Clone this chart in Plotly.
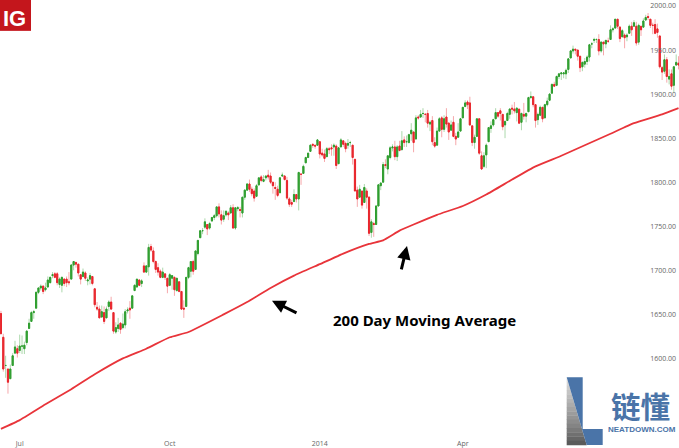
import pandas as pd
import plotly.graph_objects as go

W = 679
H = 448

holidays = ['2013-07-04', '2013-09-02', '2013-11-28', '2013-12-25', '2014-01-01',
            '2014-01-20', '2014-02-17', '2014-04-18', '2014-05-26', '2014-07-04']

# daily candles, Jun 19 2013 to Aug 12 2014, one line per month
opens = [
    1651, 1624, 1592, 1588, 1577, 1592, 1606, 1611,
    1609, 1614, 1611, 1618, 1634, 1642, 1652, 1657, 1675, 1680, 1682, 1678, 1681, 1686, 1694, 1696, 1696, 1684, 1683, 1690, 1690, 1687,
    1690, 1706, 1709, 1707, 1695, 1693, 1697, 1688, 1690, 1693, 1679, 1658, 1656, 1647, 1652, 1646, 1659, 1664, 1652, 1630, 1634, 1640,
    1635, 1638, 1654, 1657, 1657, 1677, 1681, 1689, 1685, 1705, 1698, 1704, 1727, 1722, 1710, 1703, 1699, 1692, 1696, 1691,
    1683, 1691, 1692, 1677, 1687, 1676, 1657, 1659, 1692, 1699, 1710, 1701, 1719, 1737, 1745, 1749, 1752, 1748, 1756, 1760, 1762, 1772, 1763,
    1758, 1763, 1765, 1765, 1771, 1748, 1770, 1769, 1765, 1783, 1791, 1798, 1792, 1790, 1784, 1797, 1806, 1801, 1805, 1808,
    1807, 1800, 1794, 1792, 1788, 1807, 1807, 1802, 1781, 1777, 1778, 1786, 1781, 1809, 1810, 1822, 1828, 1835, 1843, 1842, 1842,
    1846, 1833, 1832, 1829, 1838, 1839, 1840, 1841, 1821, 1840, 1847, 1844, 1842, 1845, 1842, 1826, 1791, 1783, 1790, 1777, 1790,
    1783, 1743, 1753, 1752, 1773, 1796, 1800, 1820, 1815, 1828, 1839, 1840, 1829, 1841, 1837, 1848, 1846, 1845, 1855,
    1857, 1849, 1874, 1874, 1878, 1877, 1878, 1866, 1870, 1845, 1842, 1858, 1873, 1860, 1874, 1867, 1859, 1868, 1852, 1851, 1858,
    1873, 1886, 1891, 1890, 1864, 1845, 1852, 1872, 1830, 1818, 1831, 1846, 1861, 1865, 1872, 1879, 1881, 1877, 1865, 1870, 1877,
    1884, 1883, 1879, 1883, 1868, 1877, 1875, 1880, 1896, 1897, 1888, 1871, 1876, 1885, 1873, 1888, 1893, 1901, 1911, 1910, 1920,
    1923, 1923, 1923, 1928, 1941, 1949, 1951, 1950, 1943, 1931, 1934, 1937, 1942, 1957, 1961, 1962, 1962, 1949, 1959, 1957, 1960,
    1962, 1973, 1975, 1985, 1976, 1965, 1967, 1965, 1969, 1977, 1977, 1977, 1959, 1977, 1976, 1984, 1988, 1985, 1978, 1979, 1974, 1966,
    1930, 1926, 1939, 1917, 1923, 1910, 1933, 1935,
]
highs = [
    1654, 1628, 1603, 1588, 1593, 1606, 1620, 1615,
    1627, 1626, 1619, 1632, 1645, 1654, 1655, 1676, 1680, 1684, 1683, 1686, 1693, 1693, 1698, 1698, 1698, 1692, 1693, 1691, 1693, 1698,
    1707, 1710, 1709, 1707, 1695, 1702, 1699, 1692, 1697, 1693, 1680, 1664, 1660, 1660, 1659, 1659, 1666, 1670, 1652, 1641, 1646, 1641,
    1651, 1656, 1658, 1665, 1672, 1684, 1690, 1690, 1690, 1709, 1706, 1730, 1730, 1726, 1711, 1708, 1701, 1703, 1696, 1691,
    1697, 1694, 1693, 1691, 1687, 1676, 1666, 1692, 1704, 1710, 1712, 1722, 1734, 1745, 1748, 1759, 1752, 1755, 1760, 1764, 1772, 1776, 1768,
    1768, 1768, 1767, 1774, 1775, 1771, 1773, 1772, 1783, 1792, 1799, 1803, 1795, 1793, 1798, 1805, 1808, 1808, 1808, 1814,
    1811, 1800, 1800, 1796, 1806, 1811, 1808, 1806, 1783, 1780, 1792, 1786, 1812, 1810, 1820, 1829, 1833, 1843, 1844, 1842, 1849,
    1846, 1838, 1837, 1840, 1840, 1843, 1844, 1843, 1840, 1850, 1847, 1846, 1849, 1847, 1842, 1826, 1795, 1797, 1790, 1798, 1793,
    1784, 1758, 1755, 1774, 1798, 1800, 1823, 1826, 1830, 1841, 1843, 1847, 1842, 1847, 1858, 1852, 1853, 1855, 1867,
    1857, 1876, 1876, 1882, 1884, 1878, 1882, 1870, 1875, 1851, 1862, 1874, 1875, 1876, 1884, 1868, 1870, 1875, 1856, 1867, 1873,
    1885, 1893, 1893, 1897, 1864, 1854, 1872, 1872, 1835, 1834, 1844, 1862, 1869, 1872, 1884, 1879, 1884, 1877, 1870, 1880, 1884,
    1888, 1891, 1885, 1883, 1879, 1890, 1879, 1897, 1903, 1897, 1888, 1879, 1887, 1885, 1889, 1896, 1901, 1912, 1914, 1921, 1924,
    1925, 1925, 1929, 1941, 1950, 1955, 1951, 1950, 1943, 1937, 1941, 1944, 1957, 1959, 1964, 1963, 1968, 1960, 1959, 1961, 1964,
    1978, 1976, 1985, 1985, 1977, 1974, 1969, 1969, 1979, 1982, 1984, 1982, 1980, 1977, 1986, 1990, 1992, 1985, 1981, 1985, 1980, 1966,
    1932, 1945, 1942, 1928, 1928, 1932, 1945, 1943,
]
lows = [
    1628, 1585, 1578, 1560, 1577, 1592, 1606, 1601,
    1606, 1605, 1605, 1615, 1634, 1642, 1645, 1657, 1673, 1677, 1673, 1676, 1681, 1685, 1691, 1691, 1683, 1680, 1675, 1682, 1681, 1683,
    1690, 1700, 1703, 1693, 1684, 1692, 1688, 1683, 1684, 1683, 1658, 1654, 1646, 1646, 1639, 1646, 1654, 1655, 1628, 1628, 1630, 1628,
    1633, 1634, 1651, 1645, 1657, 1677, 1681, 1682, 1681, 1697, 1697, 1694, 1721, 1708, 1697, 1694, 1691, 1691, 1689, 1674,
    1682, 1678, 1671, 1676, 1675, 1655, 1646, 1659, 1690, 1692, 1695, 1701, 1717, 1737, 1741, 1747, 1740, 1746, 1755, 1757, 1760, 1760, 1752,
    1755, 1761, 1757, 1765, 1747, 1746, 1767, 1760, 1760, 1780, 1790, 1789, 1784, 1778, 1784, 1796, 1800, 1800, 1802, 1803,
    1798, 1787, 1780, 1783, 1788, 1806, 1802, 1780, 1772, 1772, 1778, 1777, 1768, 1797, 1810, 1822, 1828, 1835, 1839, 1838, 1842,
    1827, 1829, 1823, 1829, 1832, 1830, 1830, 1815, 1821, 1840, 1840, 1834, 1838, 1840, 1820, 1790, 1772, 1783, 1770, 1777, 1770,
    1739, 1737, 1738, 1752, 1773, 1791, 1800, 1816, 1809, 1826, 1835, 1825, 1824, 1835, 1836, 1840, 1840, 1844, 1847,
    1834, 1849, 1871, 1873, 1873, 1868, 1862, 1858, 1842, 1839, 1842, 1858, 1851, 1857, 1862, 1848, 1859, 1851, 1842, 1851, 1858,
    1873, 1885, 1883, 1864, 1841, 1838, 1852, 1831, 1814, 1816, 1816, 1846, 1856, 1863, 1872, 1873, 1870, 1859, 1850, 1870, 1872,
    1877, 1878, 1869, 1866, 1859, 1871, 1868, 1880, 1895, 1885, 1862, 1865, 1875, 1868, 1873, 1886, 1892, 1901, 1908, 1909, 1917,
    1916, 1918, 1917, 1924, 1941, 1946, 1945, 1938, 1925, 1926, 1930, 1933, 1937, 1952, 1958, 1958, 1944, 1947, 1944, 1952, 1958,
    1962, 1970, 1974, 1974, 1959, 1965, 1952, 1960, 1969, 1966, 1977, 1955, 1956, 1966, 1976, 1984, 1984, 1975, 1968, 1968, 1964, 1929,
    1916, 1923, 1913, 1911, 1905, 1902, 1932, 1928,
]
closes = [
    1628, 1588, 1592, 1573, 1588, 1603, 1613, 1606,
    1614, 1614, 1615, 1631, 1640, 1652, 1653, 1675, 1680, 1682, 1676, 1680, 1689, 1692, 1695, 1692, 1686, 1690, 1692, 1685, 1686, 1686,
    1706, 1710, 1707, 1697, 1690, 1698, 1691, 1689, 1694, 1685, 1661, 1656, 1646, 1653, 1642, 1656, 1664, 1656, 1631, 1635, 1638, 1633,
    1639, 1653, 1655, 1655, 1671, 1683, 1690, 1683, 1688, 1698, 1705, 1726, 1723, 1710, 1701, 1698, 1692, 1698, 1692, 1682,
    1695, 1694, 1678, 1691, 1676, 1656, 1656, 1692, 1703, 1710, 1699, 1722, 1734, 1745, 1745, 1755, 1747, 1753, 1760, 1762, 1772, 1764, 1757,
    1762, 1767, 1763, 1771, 1748, 1771, 1771, 1768, 1783, 1791, 1798, 1792, 1787, 1782, 1796, 1805, 1802, 1803, 1807, 1806,
    1800, 1796, 1793, 1785, 1805, 1808, 1803, 1782, 1775, 1775, 1786, 1781, 1811, 1809, 1818, 1828, 1833, 1842, 1842, 1841, 1848,
    1832, 1831, 1827, 1838, 1837, 1838, 1842, 1819, 1839, 1848, 1843, 1838, 1844, 1845, 1828, 1790, 1781, 1792, 1774, 1794, 1783,
    1742, 1755, 1752, 1773, 1797, 1799, 1820, 1819, 1830, 1839, 1840, 1829, 1840, 1836, 1847, 1845, 1846, 1854, 1859,
    1845, 1873, 1873, 1877, 1878, 1877, 1867, 1868, 1846, 1841, 1858, 1872, 1860, 1872, 1866, 1857, 1865, 1852, 1849, 1857, 1872,
    1885, 1890, 1888, 1865, 1845, 1851, 1872, 1833, 1815, 1830, 1842, 1862, 1864, 1871, 1879, 1875, 1878, 1863, 1869, 1878, 1883,
    1883, 1881, 1884, 1867, 1878, 1875, 1878, 1896, 1897, 1888, 1870, 1877, 1885, 1872, 1888, 1892, 1900, 1911, 1909, 1920, 1923,
    1924, 1924, 1927, 1940, 1949, 1951, 1950, 1943, 1930, 1936, 1937, 1942, 1956, 1957, 1962, 1962, 1949, 1959, 1957, 1961, 1960,
    1973, 1974, 1985, 1977, 1963, 1972, 1964, 1967, 1977, 1973, 1981, 1958, 1978, 1973, 1983, 1987, 1987, 1978, 1978, 1969, 1970, 1931,
    1925, 1939, 1920, 1920, 1909, 1931, 1936, 1933,
]

ma_dates = ['2013-06-19', '2013-07-01', '2013-07-17', '2013-08-01', '2013-08-15', '2013-09-03',
            '2013-09-17', '2013-10-01', '2013-10-11', '2013-11-01', '2013-11-15', '2013-12-02',
            '2013-12-16', '2014-01-02', '2014-01-16', '2014-02-03', '2014-02-11', '2014-02-21',
            '2014-03-03', '2014-03-17', '2014-04-01', '2014-04-15', '2014-05-01', '2014-05-15',
            '2014-06-02', '2014-06-16', '2014-07-01', '2014-07-16', '2014-08-01', '2014-08-12']
ma_values = [1520, 1530, 1548, 1565, 1582, 1600,
             1611, 1624, 1630, 1650, 1664, 1680,
             1694, 1707, 1719, 1730, 1734, 1745,
             1752, 1763, 1773, 1786, 1803, 1818,
             1830, 1842, 1855, 1867, 1877, 1884]

y_ticks = [1600, 1650, 1700, 1750, 1800, 1850, 1900, 1950, 2000]
x_tick_dates = ['2013-07-01', '2013-10-01', '2014-01-02', '2014-04-01']
x_tick_labels = ['Jul', 'Oct', '2014', 'Apr']

dates = [d for d in pd.bdate_range('2013-06-19', '2014-08-12').strftime('%Y-%m-%d') if d not in holidays]
if not (len(dates) == len(opens) == len(highs) == len(lows) == len(closes)):
    raise ValueError(f'{len(dates)} {len(opens)} {len(highs)} {len(lows)} {len(closes)}')

GREEN = '#2f9e2f'
RED = '#e8262c'
BLUE = '#4a74a8'


def px(x, y):
    # pixel position in the screenshot to paper coordinates
    return x / W, 1 - y / H


def polygon(points, color):
    path = ''
    for i, (x, y) in enumerate(points):
        a, b = px(x, y)
        path += ('M' if i == 0 else 'L') + f'{a:.5f},{b:.5f} '
    return dict(type='path', xref='paper', yref='paper', path=path + 'Z', fillcolor=color, line_width=0, layer='above')


fig = go.Figure()

# pale wicks first, solid bodies on top
fig.add_trace(go.Candlestick(
    x=dates, open=opens, high=highs, low=lows, close=closes,
    increasing=dict(line=dict(color='rgba(47,158,47,0.4)', width=1), fillcolor='rgba(0,0,0,0)'),
    decreasing=dict(line=dict(color='rgba(232,38,44,0.4)', width=1), fillcolor='rgba(0,0,0,0)'),
    whiskerwidth=0, hoverinfo='skip'))
fig.add_trace(go.Candlestick(
    x=dates, open=opens, close=closes,
    high=[max(o, c) for o, c in zip(opens, closes)],
    low=[min(o, c) for o, c in zip(opens, closes)],
    increasing=dict(line=dict(color=GREEN, width=1), fillcolor=GREEN),
    decreasing=dict(line=dict(color=RED, width=1), fillcolor=RED),
    whiskerwidth=0))

fig.add_trace(go.Scatter(x=ma_dates, y=ma_values, mode='lines', line=dict(color='#e8343a', width=1.8, shape='spline', smoothing=0.4)))

# logo top left
shapes = [polygon([(0, 0), (31, 0), (31, 31), (0, 31)], '#c4161c')]

# watermark, grey triangle in bands to fake the gradient
greys = ['#dcdcdc', '#d4d4d4', '#cccccc', '#c4c4c4', '#bcbcbc', '#b4b4b4', '#acacac', '#a4a4a4',
         '#9c9c9c', '#949494', '#8c8c8c', '#848484', '#7a7a7a', '#707070', '#666666', '#5a5a5a']
top = 379
bottom = 447
left = 566.7
for i, grey in enumerate(greys):
    y0 = top + (bottom - top) * i / len(greys)
    y1 = top + (bottom - top) * (i + 1) / len(greys) + 0.3
    shapes.append(polygon([(left, y0), (left + 20 * (y0 - top) / (bottom - top), y0),
                           (left + 20 * (y1 - top) / (bottom - top), y1), (left, y1)], grey))
shapes.append(polygon([(566.7, 379), (582.7, 379), (582.7, 431), (602.7, 431), (602.7, 447), (586.7, 447)], BLUE))

annotations = []


def note(text, x, y, size, color, family, bold=False):
    a, b = px(x, y)
    if bold:
        text = f'<b>{text}</b>'
    annotations.append(dict(text=text, x=a, y=b, xref='paper', yref='paper', showarrow=False,
                            xanchor='center', yanchor='middle', font=dict(size=size, color=color, family=family)))


def arrow(x0, y0, x1, y1):
    a1, b1 = px(x1, y1)
    annotations.append(dict(x=a1, y=b1, ax=x0 - x1, ay=y0 - y1, xref='paper', yref='paper', axref='pixel', ayref='pixel',
                            text='', showarrow=True, arrowhead=2, arrowsize=0.9, arrowwidth=3, arrowcolor='black'))


note('IG', 14.5, 18.5, 22, 'white', 'Liberation Sans', True)
note('200 Day Moving Average', 424.5, 321, 15, 'black', 'Noto Sans', True)
note('链懂', 640.5, 407, 29.5, BLUE, 'Noto Sans CJK SC', True)
note('NEATDOWN.COM', 642, 431.5, 8, BLUE, 'Liberation Sans', True)
arrow(298, 315, 272, 302)
arrow(401, 272, 407, 247)

fig.update_layout(
    width=W, height=H,
    margin=dict(l=0, r=0, t=0, b=0),
    paper_bgcolor='white', plot_bgcolor='white',
    showlegend=False,
    shapes=shapes,
    annotations=annotations,
    xaxis=dict(type='category', range=[-0.4, 289.2], rangeslider_visible=False, showgrid=False, zeroline=False,
               tickmode='array', tickvals=x_tick_dates, ticktext=x_tick_labels, ticklen=0, showline=False,
               ticklabelposition='inside', ticklabelstandoff=-4, tickfont=dict(size=7, color='#666666', family='Open Sans')),
    yaxis=dict(range=[1500.6, 2006.8], side='right', showgrid=False, zeroline=False, showline=False,
               tickmode='array', tickvals=y_ticks, ticktext=[f'{v}.00' for v in y_ticks], ticklen=0,
               ticklabelposition='inside', tickfont=dict(size=7, color='#666666', family='Open Sans')),
)

# the page has a default 8px body margin, the chart has to sit in the corner
fig.write_html('out.html', config={'displayModeBar': False}, post_script="document.body.style.margin = '0';")
